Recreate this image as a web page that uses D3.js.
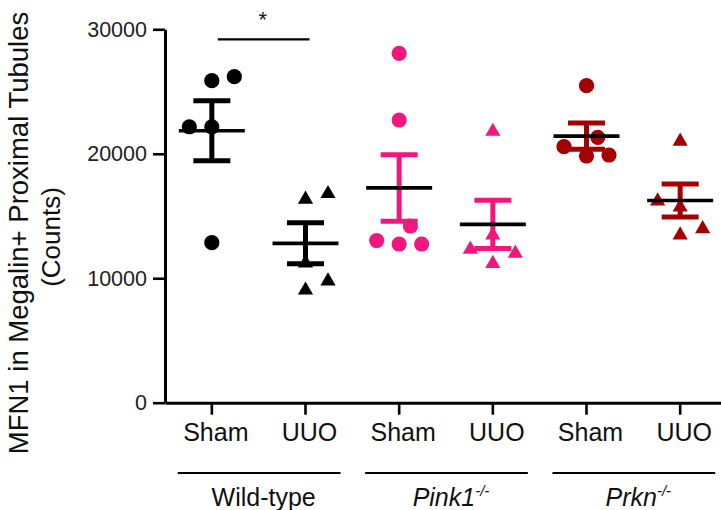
<!DOCTYPE html>
<html>
<head>
<meta charset="utf-8">
<script src="https://cdn.jsdelivr.net/npm/d3@7/dist/d3.min.js"></script>
<style>
  html, body { margin: 0; padding: 0; background: #fff; }
  svg { display: block; font-family: "Liberation Sans", Arial, sans-serif; }
</style>
</head>
<body>
<svg id="chart" width="721" height="510"></svg>
<script>
// ---------------- data ----------------
const categories = ["Sham", "UUO", "Sham", "UUO", "Sham", "UUO"];
const groupNames = ["Wild-type", "Pink1", "Prkn"];
const groupSuper = ["", "-/-", "-/-"];
const wtSham    = [25870, 22170, 26190, 22170, 12855];
const wtUUO     = [16510, 11400, 16968, 9215, 9946];
const pink1Sham = [28071, 22712, 12750, 13031, 12750, 14196];
const pink1UUO  = [21973, 13634, 11360, 12493, 12172];
const prknSham  = [25468, 19820, 19900, 20567, 21322];
const prknUUO   = [21170, 15883, 13650, 16381, 14140];
const yTicks = [0, 10000, 20000, 30000];
const yTitle1 = "MFN1 in Megalin+ Proximal Tubules";
const yTitle2 = "(Counts)";
const sigLabel = "*";

const seriesValues = [wtSham, wtUUO, pink1Sham, pink1UUO, prknSham, prknUUO];
const seriesShape = ["circle", "triangle", "circle", "triangle", "circle", "triangle"];
const groupColor = ["#000000", "#F0187F", "#A40000"];

// ---------------- layout ----------------
const svg = d3.select("#chart");
const x = d3.scaleBand().domain(d3.range(categories.length)).range([165, 727]);
const y = d3.scaleLinear().domain([0, 30000]).range([402.7, 29.3]);
const cx = i => x(i) + x.bandwidth() / 2;

// y axis
const gy = svg.append("g").attr("transform", "translate(165,0)")
  .call(d3.axisLeft(y).tickValues(yTicks).tickSize(12).tickPadding(6).tickSizeOuter(0).tickFormat(d3.format("d")));
gy.select(".domain").attr("stroke", "#000").attr("stroke-width", 3);
gy.selectAll(".tick line").attr("stroke", "#000").attr("stroke-width", 2.6);
gy.selectAll(".tick text").attr("font-size", 21.5).attr("fill", "#222").attr("font-family", "Liberation Sans, Arial, sans-serif");

// x axis
const gx = svg.append("g").attr("transform", "translate(0,402.7)")
  .call(d3.axisBottom(x).tickSize(12).tickPadding(9).tickSizeOuter(0).tickFormat(i => categories[i]));
gx.select(".domain").attr("stroke", "#000").attr("stroke-width", 3);
gx.selectAll(".tick line").attr("stroke", "#000").attr("stroke-width", 2.6);
gx.selectAll(".tick text").attr("font-size", 25).attr("fill", "#111").attr("dx", 4)
  .attr("font-family", "Liberation Sans, Arial, sans-serif");

// y title
const yt = svg.append("g").attr("transform", "translate(0,233) rotate(-90)");
yt.append("text").attr("x", 0).attr("y", 28).attr("text-anchor", "middle")
  .attr("font-size", 27.5).attr("fill", "#111").text(yTitle1);
yt.append("text").attr("x", -4).attr("y", 60).attr("text-anchor", "middle")
  .attr("font-size", 26).attr("fill", "#111").text(yTitle2);

// ---------------- swarm placement ----------------
const step = 22.5, R = 20;
function swarm(values) {
  const placed = [];
  values.forEach((v, i) => {
    const py = y(v);
    const dir = i % 2 === 0 ? 1 : -1;
    const cands = [0, dir * step / 2, -dir * step / 2, dir * step, -dir * step,
                   dir * 1.5 * step, -dir * 1.5 * step, dir * 2 * step, -dir * 2 * step];
    let chosen = cands[cands.length - 1];
    for (const c of cands) {
      if (placed.every(p => Math.hypot(p.dx - c, p.py - py) >= R)) { chosen = c; break; }
    }
    placed.push({ v, py, dx: chosen });
  });
  return placed;
}

const triSize = 100;
const triH = Math.sqrt(triSize / (Math.sqrt(3) * 3)) * 3; // triangle height
const triPath = d3.symbol(d3.symbolTriangle, triSize)();

seriesValues.forEach((vals, i) => {
  const color = groupColor[Math.floor(i / 2)];
  const c = cx(i);
  const pts = swarm(vals);
  const g = svg.append("g");
  if (seriesShape[i] === "circle") {
    g.selectAll("circle").data(pts).join("circle")
      .attr("cx", d => c + d.dx).attr("cy", d => d.py).attr("r", 7.6).attr("fill", color);
  } else {
    g.selectAll("path").data(pts).join("path")
      .attr("d", triPath)
      .attr("transform", d => `translate(${c + d.dx},${d.py + triH / 6})`)
      .attr("fill", color);
  }
  // mean and SEM
  const m = d3.mean(vals);
  const sem = d3.deviation(vals) / Math.sqrt(vals.length);
  const eb = svg.append("g").attr("stroke", color).attr("stroke-width", 5);
  eb.append("line").attr("x1", c).attr("x2", c).attr("y1", y(m + sem)).attr("y2", y(m - sem));
  eb.append("line").attr("x1", c - 18.5).attr("x2", c + 18.5).attr("y1", y(m + sem)).attr("y2", y(m + sem));
  eb.append("line").attr("x1", c - 18.5).attr("x2", c + 18.5).attr("y1", y(m - sem)).attr("y2", y(m - sem));
  svg.append("line").attr("x1", c - 33).attr("x2", c + 33).attr("y1", y(m)).attr("y2", y(m))
    .attr("stroke", "#000").attr("stroke-width", 3.7);
});

// significance bar
svg.append("line").attr("x1", cx(0) + 6).attr("x2", cx(1) + 4).attr("y1", 39.3).attr("y2", 39.3)
  .attr("stroke", "#000").attr("stroke-width", 2.2);
svg.append("text").attr("x", (cx(0) + cx(1)) / 2 + 4).attr("y", 27).attr("text-anchor", "middle")
  .attr("font-size", 22).attr("fill", "#111").text(sigLabel);

// group underlines and labels
groupNames.forEach((name, k) => {
  const a = cx(2 * k), b = cx(2 * k + 1);
  svg.append("line").attr("x1", a - 34).attr("x2", b + 35).attr("y1", 473).attr("y2", 473)
    .attr("stroke", "#000").attr("stroke-width", 2.2);
  const t = svg.append("text").attr("x", (a + b) / 2 + 5).attr("y", 506)
    .attr("text-anchor", "middle").attr("font-size", 25).attr("fill", "#111");
  if (groupSuper[k]) {
    t.append("tspan").attr("font-style", "italic").text(name);
    t.append("tspan").attr("font-style", "italic").attr("font-size", 15).attr("dy", -10).text(groupSuper[k]);
  } else {
    t.text(name);
  }
});
</script>
</body>
</html>
